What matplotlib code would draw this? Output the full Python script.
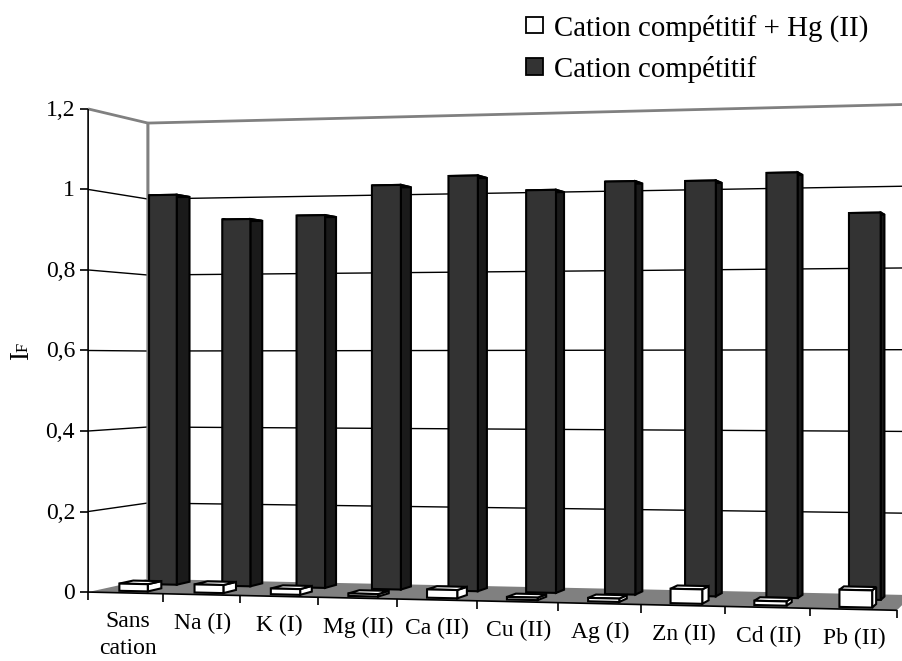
import numpy as np
import matplotlib
matplotlib.use('Agg')
import matplotlib.pyplot as plt
from matplotlib.patches import Polygon, Rectangle

plt.rcParams['font.family'] = ['Liberation Serif', 'DejaVu Serif']

# Valeurs
categories = ['Sans\ncation', 'Na (I)', 'K (I)', 'Mg (II)', 'Ca (II)', 'Cu (II)', 'Ag (I)', 'Zn (II)', 'Cd (II)', 'Pb (II)']
cation_seul = [1.0, 0.935, 0.942, 1.015, 1.035, 0.996, 1.014, 1.012, 1.028, 0.928]
cation_hg = [0.018, 0.02, 0.014, 0.006, 0.02, 0.006, 0.008, 0.034, 0.01, 0.04]
y_ticks = [0, 0.2, 0.4, 0.6, 0.8, 1, 1.2]
y_labels = ['0', '0,2', '0,4', '0,6', '0,8', '1', '1,2']
legend_labels = ['Cation compétitif + Hg (II)', 'Cation compétitif']

Y_MAX = 1.2
N = len(categories)

# Perspective : (categorie, profondeur, valeur) -> pixels, calee sur les coins du graphe
world = np.array([[0, 0, 0], [0, 0, Y_MAX], [0, 1, 0], [0, 1, Y_MAX],
                  [N, 0, 0], [N, 0, Y_MAX], [N, 1, 0], [N, 1, Y_MAX]], dtype=float)
pixels = np.array([[88, 592], [88, 109], [148, 579], [148, 123],
                   [897, 610], [897, 88], [912, 595.4], [912, 104]], dtype=float)
rows = []
for (a, b, c), (px, py) in zip(world, pixels):
    rows.append([a, b, c, 1, 0, 0, 0, 0, -px * a, -px * b, -px * c, -px])
    rows.append([0, 0, 0, 0, a, b, c, 1, -py * a, -py * b, -py * c, -py])
P = np.linalg.svd(np.array(rows))[2][-1].reshape(3, 4)


def proj(u, w, h):
    x, y, z = P @ np.array([u, w, h, 1.0])
    return x / z, y / z


def line(ax, a, b, color='black', lw=1.0, z=2):
    ax.plot([a[0], b[0]], [a[1], b[1]], color=color, lw=lw, zorder=z, solid_capstyle='butt')


def bar3d(ax, u0, u1, w0, w1, h, front, side, top, z):
    faces = [
        ([(u1, w0, 0), (u1, w1, 0), (u1, w1, h), (u1, w0, h)], side),
        ([(u0, w0, h), (u1, w0, h), (u1, w1, h), (u0, w1, h)], top),
        ([(u0, w0, 0), (u1, w0, 0), (u1, w0, h), (u0, w0, h)], front),
    ]
    for pts, col in faces:
        ax.add_patch(Polygon([proj(*p) for p in pts], closed=True, facecolor=col,
                             edgecolor='black', lw=1.5, joinstyle='miter', zorder=z))


fig = plt.figure(figsize=(9.03, 6.61), dpi=100)
ax = fig.add_axes([0, 0, 1, 1])
ax.set_xlim(0, 903)
ax.set_ylim(661, 0)
ax.axis('off')

# sol gris
ax.add_patch(Polygon([proj(0, 0, 0), proj(N, 0, 0), proj(N, 1, 0), proj(0, 1, 0)],
                     closed=True, facecolor='#808080', edgecolor='none', zorder=1))

# quadrillage sur les parois
for t in y_ticks[1:-1]:
    line(ax, proj(0, 0, t), proj(0, 1, t))
    line(ax, proj(0, 1, t), proj(N, 1, t))
line(ax, proj(0, 0, Y_MAX), proj(0, 1, Y_MAX), color='#808080', lw=2)
line(ax, proj(0, 1, Y_MAX), proj(N, 1, Y_MAX), color='#808080', lw=2)
line(ax, proj(0, 1, 0), proj(0, 1, Y_MAX), color='#808080', lw=2.2)

# axes
line(ax, proj(0, 0, 0), proj(0, 0, Y_MAX), lw=1.2, z=3)
line(ax, proj(0, 0, 0), proj(N, 0, 0), lw=1.2, z=3)
for t, lab in zip(y_ticks, y_labels):
    x, y = proj(0, 0, t)
    line(ax, (x - 8, y), (x, y), lw=1.2, z=3)
    ax.text(x - 13, y + 1.5, lab, ha='right', va='center', fontsize=17, color='black')
for i in range(N + 1):
    x, y = proj(i, 0, 0)
    line(ax, (x, y), (x, y + 8), lw=1.2, z=3)
for i, lab in enumerate(categories):
    x, y = proj(i + 0.5, 0, 0)
    if '\n' in lab:
        ax.text(x + 2, y + 42, lab, ha='center', va='center', fontsize=17, linespacing=1.4, color='black')
    else:
        ax.text(x + 1, y + 29, lab, ha='center', va='center', fontsize=17, color='black')

# barres : du fond vers l'avant
for i in range(N):
    bar3d(ax, i + 0.31, i + 0.69, 0.63, 0.86, cation_seul[i], '#333333', '#1a1a1a', '#262626', 4)
for i in range(N):
    bar3d(ax, i + 0.31, i + 0.69, 0.13, 0.36, cation_hg[i], 'white', 'white', 'white', 5)

# legende
ax.add_patch(Rectangle((526, 17), 17, 16, facecolor='white', edgecolor='black', lw=1.3, zorder=6))
ax.add_patch(Rectangle((526, 58), 17, 17, facecolor='#333333', edgecolor='black', lw=1.3, zorder=6))
ax.text(554, 36, legend_labels[0], ha='left', va='baseline', fontsize=20.8)
ax.text(554, 77, legend_labels[1], ha='left', va='baseline', fontsize=20.8)

# titre de l'axe y : I avec F en indice
ax.text(28, 360, 'I', rotation=90, rotation_mode='anchor', ha='left', va='baseline', fontsize=19.5)
ax.text(28, 352, 'F', rotation=90, rotation_mode='anchor', ha='left', va='baseline', fontsize=12)

fig.savefig('out.png', dpi=100)
